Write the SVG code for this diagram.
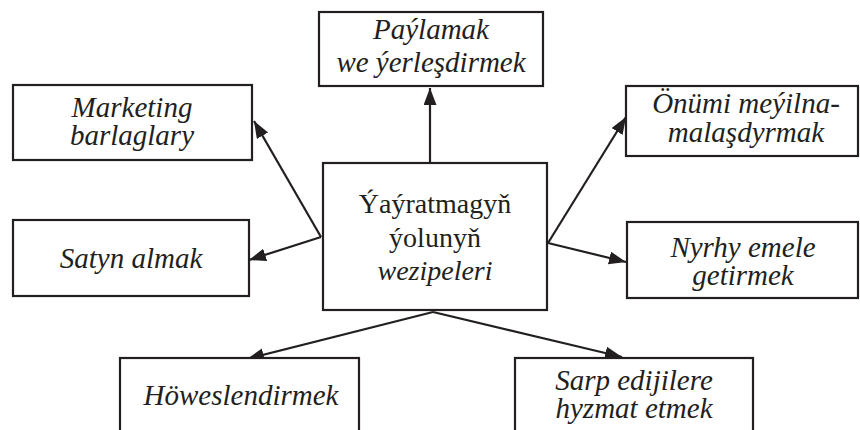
<svg xmlns="http://www.w3.org/2000/svg" width="860" height="430" viewBox="0 0 860 430">
<defs>
<marker id="ah" markerUnits="userSpaceOnUse" markerWidth="18" markerHeight="14" refX="17" refY="6.5" orient="auto">
<path d="M0,0 L17,6.5 L0,13 z" fill="#231f20"/>
</marker>
</defs>
<rect width="860" height="430" fill="#fff"/>
<g id="connectors" stroke="#231f20" stroke-width="2.2" fill="none" marker-end="url(#ah)">
<line x1="430" y1="162" x2="430" y2="88"/>
<line x1="321" y1="237" x2="254" y2="121"/>
<line x1="321" y1="237" x2="249" y2="260"/>
<line x1="548" y1="243" x2="626" y2="117"/>
<line x1="548" y1="243" x2="626" y2="262"/>
<line x1="433" y1="312" x2="247" y2="359"/>
<line x1="433" y1="312" x2="622" y2="357"/>
</g>
<g font-family="Liberation Serif" style="font-family:'Liberation Serif',serif !important">
<g id="center">
<rect x="323" y="163" width="224" height="147" fill="#fff" stroke="#231f20" stroke-width="2.2"/>
<text x="435" y="213" font-family="Liberation Serif" style="font-family:'Liberation Serif',serif !important" font-size="28" text-anchor="middle" fill="#231f20">Ýaýratmagyň</text>
<text x="435" y="247" font-family="Liberation Serif" style="font-family:'Liberation Serif',serif !important" font-size="28" text-anchor="middle" fill="#231f20">ýolunyň</text>
<text x="435" y="280" font-family="Liberation Serif" style="font-family:'Liberation Serif',serif !important" font-size="28" font-style="italic" text-anchor="middle" fill="#231f20">wezipeleri</text>
</g>
<g id="paylamak">
<rect x="319" y="12" width="224" height="74" fill="#fff" stroke="#231f20" stroke-width="2.2"/>
<text x="431" y="39" font-family="Liberation Serif" style="font-family:'Liberation Serif',serif !important" font-size="29" font-style="italic" text-anchor="middle" fill="#231f20">Paýlamak</text>
<text x="431" y="72" font-family="Liberation Serif" style="font-family:'Liberation Serif',serif !important" font-size="29" font-style="italic" text-anchor="middle" fill="#231f20">we ýerleşdirmek</text>
</g>
<g id="marketing">
<rect x="13" y="85" width="239" height="75" fill="#fff" stroke="#231f20" stroke-width="2.2"/>
<text x="132" y="117" font-family="Liberation Serif" style="font-family:'Liberation Serif',serif !important" font-size="29" font-style="italic" text-anchor="middle" fill="#231f20">Marketing</text>
<text x="132" y="145" font-family="Liberation Serif" style="font-family:'Liberation Serif',serif !important" font-size="29" font-style="italic" text-anchor="middle" fill="#231f20">barlaglary</text>
</g>
<g id="satyn">
<rect x="13" y="220" width="236" height="76" fill="#fff" stroke="#231f20" stroke-width="2.2"/>
<text x="131" y="268" font-family="Liberation Serif" style="font-family:'Liberation Serif',serif !important" font-size="29" font-style="italic" text-anchor="middle" fill="#231f20">Satyn almak</text>
</g>
<g id="onumi">
<rect x="626" y="86" width="232" height="70" fill="#fff" stroke="#231f20" stroke-width="2.2"/>
<text x="746" y="113" font-family="Liberation Serif" style="font-family:'Liberation Serif',serif !important" font-size="29" font-style="italic" text-anchor="middle" fill="#231f20">Önümi meýilna-</text>
<text x="746" y="142" font-family="Liberation Serif" style="font-family:'Liberation Serif',serif !important" font-size="29" font-style="italic" text-anchor="middle" fill="#231f20">malaşdyrmak</text>
</g>
<g id="nyrhy">
<rect x="627" y="222" width="231" height="76" fill="#fff" stroke="#231f20" stroke-width="2.2"/>
<text x="743" y="257" font-family="Liberation Serif" style="font-family:'Liberation Serif',serif !important" font-size="29" font-style="italic" text-anchor="middle" fill="#231f20">Nyrhy emele</text>
<text x="743" y="285" font-family="Liberation Serif" style="font-family:'Liberation Serif',serif !important" font-size="29" font-style="italic" text-anchor="middle" fill="#231f20">getirmek</text>
</g>
<g id="howes">
<rect x="120" y="358" width="239" height="80" fill="#fff" stroke="#231f20" stroke-width="2.2"/>
<text x="241" y="405" font-family="Liberation Serif" style="font-family:'Liberation Serif',serif !important" font-size="29" font-style="italic" text-anchor="middle" fill="#231f20">Höweslendirmek</text>
</g>
<g id="sarp">
<rect x="515" y="358" width="238" height="80" fill="#fff" stroke="#231f20" stroke-width="2.2"/>
<text x="634" y="390" font-family="Liberation Serif" style="font-family:'Liberation Serif',serif !important" font-size="29" font-style="italic" text-anchor="middle" fill="#231f20">Sarp edijilere</text>
<text x="634" y="418" font-family="Liberation Serif" style="font-family:'Liberation Serif',serif !important" font-size="29" font-style="italic" text-anchor="middle" fill="#231f20">hyzmat etmek</text>
</g>
</g>
</svg>
